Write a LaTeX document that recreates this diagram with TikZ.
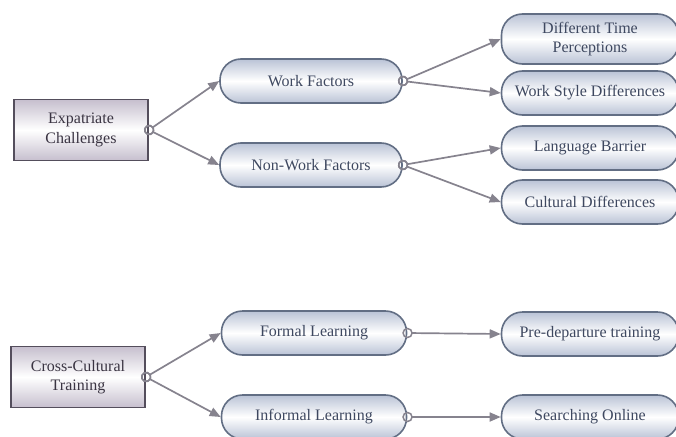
\documentclass[tikz,border=0pt]{standalone}
\usepackage{fontspec}
\setmainfont{Liberation Serif}
\usetikzlibrary{arrows.meta}
\definecolor{linkgray}{RGB}{134,131,142}
\definecolor{pillline}{RGB}{98,110,132}
\definecolor{pillfill}{RGB}{186,195,214}
\definecolor{pilltext}{RGB}{62,72,96}
\definecolor{boxline}{RGB}{84,78,92}
\definecolor{boxfill}{RGB}{198,191,206}
\definecolor{boxtext}{RGB}{58,52,66}

\begin{document}
\begin{tikzpicture}[x=1pt,y=-1pt,
    pill/.style={draw=pillline, line width=1.6pt, rounded corners=21pt, minimum width=182pt, minimum height=44pt,
      top color=pillfill, bottom color=pillfill, middle color=white, text=pilltext, align=center,
      font=\fontsize{16}{19.5}\selectfont},
    topic/.style={draw=boxline, line width=1.9pt, minimum width=134pt, minimum height=61pt,
      top color=boxfill, bottom color=boxfill, middle color=white, text=boxtext, align=center,
      font=\fontsize{16}{19.5}\selectfont},
    link/.style={draw=linkgray, line width=1.7pt, shorten <=-5pt,
      {Circle[open,length=10.5pt,line width=1.5pt]}-{Triangle[length=11pt,width=9pt]}}]
  \useasboundingbox (0,0) rectangle (676,436);

  \node[topic] (expat) at (81,130) {Expatriate\\Challenges};
  \node[pill] (work) at (311,81) {Work Factors};
  \node[pill] (nonwork) at (311,165) {Non-Work Factors};
  \node[pill, minimum width=177pt, minimum height=50pt] (time) at (590,39) {Different Time\\Perceptions};
  \node[pill, minimum width=177pt] (style) at (590,93) {Work Style Differences};
  \node[pill, minimum width=177pt] (language) at (590,148) {Language Barrier};
  \node[pill, minimum width=177pt] (culture) at (590,202) {Cultural Differences};

  \node[topic] (training) at (78,377) {Cross-Cultural\\Training};
  \node[pill, minimum width=185pt] (formal) at (314,333) {Formal Learning};
  \node[pill, minimum width=185pt] (informal) at (314,417) {Informal Learning};
  \node[pill, minimum width=177pt] (predep) at (590,334) {Pre-departure training};
  \node[pill, minimum width=177pt] (online) at (590,417) {Searching Online};

  \draw[link] (expat.east) -- (work.west);
  \draw[link] (expat.east) -- (nonwork.west);
  \draw[link] (work.east) -- (time.west);
  \draw[link] (work.east) -- (style.west);
  \draw[link] (nonwork.east) -- (language.west);
  \draw[link] (nonwork.east) -- (culture.west);
  \draw[link] (training.east) -- (formal.west);
  \draw[link] (training.east) -- (informal.west);
  \draw[link] (formal.east) -- (predep.west);
  \draw[link] (informal.east) -- (online.west);
\end{tikzpicture}
\end{document}
